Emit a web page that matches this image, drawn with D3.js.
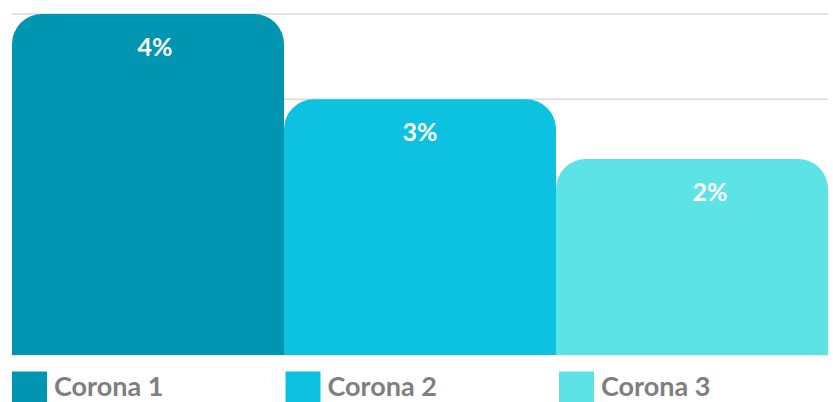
<!DOCTYPE html>
<html>
<head>
<meta charset="utf-8">
<script src="https://cdn.jsdelivr.net/npm/d3@7/dist/d3.min.js"></script>
<style>
  html, body { margin: 0; padding: 0; background: #fff; }
  svg { display: block; }
</style>
</head>
<body>
<svg id="chart" width="833" height="402"></svg>
<script>
// ---- data ----
const categories = ["Corona 1", "Corona 2", "Corona 3"];
const values = [4.0, 3.0, 2.3];
const valueLabels = ["4%", "3%", "2%"];
const gridTicks = [0, 1, 2, 3, 4];

// ---- styles ----
const colors = ["#0096B1", "#0DC1E0", "#5DE2E6"];
const labelNudge = [7, 0, 18];

(function () {
const svg = d3.select("#chart");
const plotL = 12, plotR = 828, plotT = 14, plotB = 355;

const x = d3.scaleBand().domain(categories).range([plotL, plotR]).padding(0);
const y = d3.scaleLinear().domain([0, 4]).range([plotB, plotT]);

// gridlines
svg.append("g").selectAll("line").data(gridTicks).join("line")
  .attr("x1", plotL).attr("x2", plotR)
  .attr("y1", d => y(d)).attr("y2", d => y(d))
  .attr("stroke", d => d === 0 ? "#E6E6E6" : "#D9D9D9")
  .attr("stroke-width", 1.3);

function topRounded(x0, y0, w, h, r) {
  r = Math.min(r, w / 2, h);
  const p = d3.path();
  p.moveTo(x0, y0 + h);
  p.lineTo(x0, y0 + r);
  p.arcTo(x0, y0, x0 + r, y0, r);
  p.lineTo(x0 + w - r, y0);
  p.arcTo(x0 + w, y0, x0 + w, y0 + r, r);
  p.lineTo(x0 + w, y0 + h);
  p.closePath();
  return p.toString();
}

const data = categories.map((c, i) => ({ c, v: values[i], label: valueLabels[i], i }));

svg.append("g").selectAll("path").data(data).join("path")
  .attr("d", d => topRounded(x(d.c), y(d.v), x.bandwidth(), y(0) - y(d.v), 30))
  .attr("fill", d => colors[d.i]);

svg.append("g").selectAll("text").data(data).join("text")
  .attr("x", d => x(d.c) + x.bandwidth() / 2 + labelNudge[d.i])
  .attr("y", d => y(d.v) + 42)
  .attr("text-anchor", "middle")
  .attr("fill", "#FFFFFF")
  .attr("font-family", "Lato, 'Open Sans', sans-serif")
  .attr("font-weight", "bold")
  .attr("font-size", 25)
  .text(d => d.label);

// legend
const lg = svg.append("g").selectAll("g").data(data).join("g")
  .attr("transform", d => `translate(${x(d.c) + d.i * 1.5},0)`);
lg.append("rect")
  .attr("x", 0).attr("y", 371.5)
  .attr("width", 35).attr("height", 35)
  .attr("fill", d => colors[d.i]);
lg.append("text")
  .attr("x", 42).attr("y", 396)
  .attr("fill", "#7F7F7F")
  .attr("font-family", "Lato, 'Open Sans', sans-serif")
  .attr("font-weight", "bold")
  .attr("font-size", 27)
  .text(d => d.c);
})();
</script>
</body>
</html>
